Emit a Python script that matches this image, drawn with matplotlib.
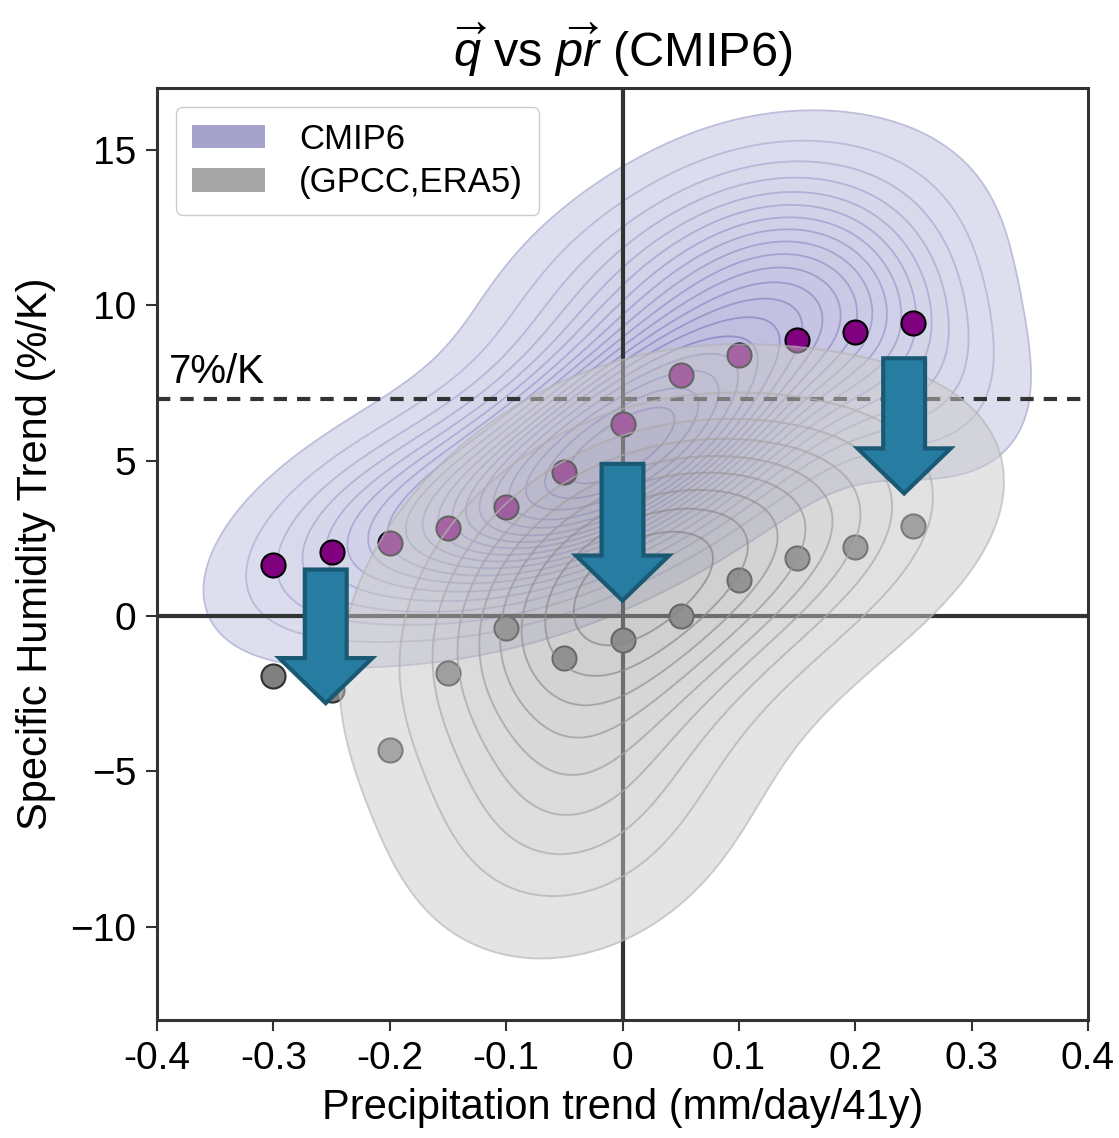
import numpy as np
import matplotlib
matplotlib.use("Agg")
import matplotlib.pyplot as plt
from matplotlib.colors import LinearSegmentedColormap
from matplotlib.patches import Patch, FancyArrow

plt.rcParams['font.family'] = ['Liberation Sans', 'DejaVu Sans']
plt.rcParams['mathtext.fontset'] = 'custom'
plt.rcParams['mathtext.it'] = 'Liberation Sans:italic'
plt.rcParams['mathtext.rm'] = 'Liberation Sans'

# regression points (q trend binned by pr trend)
pr_bins = [-0.3, -0.25, -0.2, -0.15, -0.1, -0.05, 0.0, 0.05, 0.1, 0.15, 0.2, 0.25]
q_cmip6 = [1.64, 2.06, 2.35, 2.83, 3.5, 4.63, 6.17, 7.75, 8.39, 8.9, 9.16, 9.45]
q_obs = [-1.93, -2.38, -4.31, -1.83, -0.39, -1.35, -0.77, 0.0, 1.16, 1.86, 2.22, 2.89]

# density shapes (gaussian components: centre, spread, correlation, weight)
cmip_mx = [-0.01, -0.2, 0.09, 0.22]
cmip_my = [5.0, 3.0, 10.0, 9.0]
cmip_sx = [0.10, 0.09, 0.11, 0.08]
cmip_sy = [2.6, 2.4, 3.0, 2.8]
cmip_rho = [0.6, 0.5, 0.35, -0.4]
cmip_w = [1.0, 0.25, 0.7, 0.2]

obs_mx = [-0.01, -0.04, 0.13]
obs_my = [0.5, -6.0, 2.8]
obs_sx = [0.10, 0.08, 0.10]
obs_sy = [3.4, 2.8, 2.6]
obs_rho = [0.3, 0.2, 0.3]
obs_w = [1.0, 0.22, 0.35]

# arrows: x position, start, end
arrow_x = [-0.255, 0.0, 0.242]
arrow_top = [1.5, 4.9, 8.3]
arrow_tip = [-2.8, 0.5, 3.95]

xticks = [-0.4, -0.3, -0.2, -0.1, 0, 0.1, 0.2, 0.3, 0.4]
xtick_labels = ['-0.4', '-0.3', '-0.2', '-0.1', '0', '0.1', '0.2', '0.3', '0.4']
yticks = [-10, -5, 0, 5, 10, 15]


def mixture(X, Y, mx, my, sx, sy, rho, w):
    Z = np.zeros_like(X)
    for a, b, c, d, r, k in zip(mx, my, sx, sy, rho, w):
        dx = (X - a) / c
        dy = (Y - b) / d
        q = (dx**2 - 2 * r * dx * dy + dy**2) / (1 - r**2)
        Z += k * np.exp(-0.5 * q) / (2 * np.pi * c * d * np.sqrt(1 - r**2))
    return Z


def mass_levels(Z, n, thresh=0.05):
    v = np.sort(Z.ravel())
    c = np.cumsum(v)
    c /= c[-1]
    props = np.linspace(thresh, 1, n)[:-1]
    lev = list(v[np.searchsorted(c, props)])
    return lev + [Z.max() * 1.001]


gx = np.linspace(-0.6, 0.6, 400)
gy = np.linspace(-20, 25, 400)
X, Y = np.meshgrid(gx, gy)
Zc = mixture(X, Y, cmip_mx, cmip_my, cmip_sx, cmip_sy, cmip_rho, cmip_w)
Zo = mixture(X, Y, obs_mx, obs_my, obs_sx, obs_sy, obs_rho, obs_w)

purp_fill = LinearSegmentedColormap.from_list('pf', ['#dfe0ef', '#b0acd8'])
purp_line = LinearSegmentedColormap.from_list('pl', ['#bebedc', '#857fc0'])
gray_fill = LinearSegmentedColormap.from_list('gf', ['#cdcdcd', '#9a9a9a'])
gray_line = LinearSegmentedColormap.from_list('gl', ['#b0b0b0', '#808080'])

fig = plt.figure(figsize=(11.19, 11.38), dpi=100)
ax = fig.add_axes([157 / 1119, 1 - 1020 / 1138, 931 / 1119, 932 / 1138])

lc = mass_levels(Zc, 20)
ax.contourf(X, Y, Zc, levels=lc, cmap=purp_fill, zorder=1)
ax.contour(X, Y, Zc, levels=lc[:-1], cmap=purp_line, linewidths=1.3, zorder=1.1)

ax.axhline(0, color='#333333', lw=3, zorder=2)
ax.axvline(0, color='#333333', lw=3, zorder=2)
ax.axhline(7, color='#333333', lw=3, dashes=(3.2, 2.4), zorder=2)
ax.text(-0.39, 7.25, '7%/K', fontsize=29, va='bottom', ha='left', zorder=2)

ax.scatter(pr_bins, q_cmip6, s=300, color='purple', edgecolor='black', linewidths=1.5, zorder=3)
ax.scatter(pr_bins, q_obs, s=300, color='gray', edgecolor='#303030', linewidths=1.5, zorder=3)

lo = mass_levels(Zo, 10)
ax.contourf(X, Y, Zo, levels=lo, cmap=gray_fill, alpha=0.5, zorder=4)
ax.contour(X, Y, Zo, levels=lo[:-1], cmap=gray_line, alpha=0.5, linewidths=1.5, zorder=4.1)

for xa, yt, yb in zip(arrow_x, arrow_top, arrow_tip):
    arr = FancyArrow(xa, yt, 0, yb - yt, width=0.036, head_width=0.08, head_length=1.45,
                     length_includes_head=True, facecolor='#267ca1', edgecolor='#1a5974',
                     linewidth=3, zorder=5)
    ax.add_patch(arr)

ax.set_xlim(-0.4, 0.4)
ax.set_ylim(-13, 17)
ax.set_xticks(xticks)
ax.set_xticklabels(xtick_labels)
ax.set_yticks(yticks)
ax.tick_params(direction='out', length=8, width=1.5, labelsize=28, color='#333333', pad=7)
for sp in ax.spines.values():
    sp.set_linewidth(2.2)
    sp.set_color('#333333')

ax.set_xlabel('Precipitation trend (mm/day/41y)', fontsize=30, labelpad=8)
ax.set_ylabel('Specific Humidity Trend (%/K)', fontsize=30, labelpad=10)
ax.set_title(r'$\overrightarrow{q}$ vs $\overrightarrow{pr}$ (CMIP6)', fontsize=35, pad=15)

handles = [Patch(facecolor='#a5a3cb', label='CMIP6'),
           Patch(facecolor='#a6a6a6', label='(GPCC,ERA5)')]
leg = ax.legend(handles=handles, loc='upper left', fontsize=25, handlelength=2.1,
                handleheight=0.65, handletextpad=1.0, labelspacing=0.3,
                borderaxespad=0.55, borderpad=0.45, framealpha=1)
leg.set_zorder(6)

fig.savefig('out.png', dpi=100)
